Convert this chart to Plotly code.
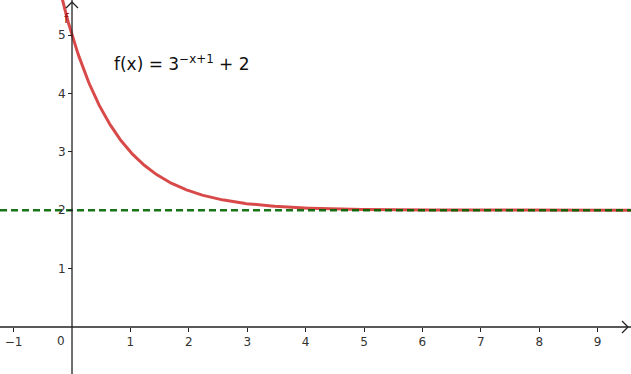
import numpy as np
import plotly.graph_objects as go

# axis window
x_range = [-1.233, 9.572]
y_range = [-0.805, 5.6]
x_ticks = [-1, 1, 2, 3, 4, 5, 6, 7, 8, 9]
x_tick_labels = ["\u22121", "1", "2", "3", "4", "5", "6", "7", "8", "9"]
y_ticks = [1, 2, 3, 4, 5]
y_tick_labels = ["1", "2", "3", "4", "5"]
asymptote_y = 2

xs = np.linspace(x_range[0], x_range[1], 600)
ys = 3.0 ** (-xs + 1) + 2

fig = go.Figure()
fig.add_trace(go.Scatter(x=xs, y=ys, mode="lines",
                         line=dict(color="#d84a4a", width=3), hoverinfo="skip"))
fig.add_trace(go.Scatter(x=x_range, y=[asymptote_y, asymptote_y], mode="lines",
                         line=dict(color="rgba(0,100,0,0.9)", width=2.5, dash="7px,4px"),
                         hoverinfo="skip"))

xpos = (0 - y_range[0]) / (y_range[1] - y_range[0])
ypos = (0 - x_range[0]) / (x_range[1] - x_range[0])
tickfont = dict(family="DejaVu Sans", size=12, color="#333333")

fig.update_layout(
    width=631, height=374, margin=dict(l=0, r=0, t=0, b=0),
    plot_bgcolor="white", paper_bgcolor="white", showlegend=False,
    xaxis=dict(range=x_range, showgrid=False, zeroline=False, showline=False,
               tickvals=x_ticks, ticktext=x_tick_labels, ticks="outside", ticklen=4,
               tickcolor="#222", anchor="free", position=xpos, tickfont=tickfont),
    yaxis=dict(range=y_range, showgrid=False, zeroline=False, showline=False,
               tickvals=y_ticks, ticktext=y_tick_labels, ticks="outside", ticklen=4,
               tickcolor="#222", anchor="free", position=ypos, tickfont=tickfont),
)

axis_line = dict(color="#222", width=1.3)
# axis lines
fig.add_shape(type="line", xref="x", yref="y", x0=x_range[0], x1=x_range[1], y0=0, y1=0,
              line=axis_line)
fig.add_shape(type="line", xref="x", yref="y", x0=0, x1=0, y0=y_range[0], y1=y_range[1],
              line=axis_line)
# arrow heads (pixel-sized shapes anchored at the axis ends)
for dy in (6, -6):
    fig.add_shape(type="line", xref="x", yref="y", xsizemode="pixel", ysizemode="pixel",
                  xanchor=x_range[1], yanchor=0, x0=-3, y0=0, x1=-9, y1=dy, line=axis_line)
for dx in (6, -6):
    fig.add_shape(type="line", xref="x", yref="y", xsizemode="pixel", ysizemode="pixel",
                  xanchor=0, yanchor=y_range[1], x0=0, y0=-2, x1=dx, y1=-8, line=axis_line)

# origin label
fig.add_annotation(x=0, y=0, text="0", showarrow=False, xanchor="right", yanchor="top",
                   xshift=-5, yshift=-5, font=tickfont)
# function name label
fig.add_annotation(x=0, y=5.28, text="f", showarrow=False, xanchor="right",
                   xshift=-1, font=dict(family="DejaVu Sans", size=13, color="#a01010"))
# formula
fig.add_annotation(x=1.88, y=4.52, text="f(x) = 3<sup>\u2212x+1</sup> + 2", showarrow=False,
                   font=dict(family="DejaVu Sans", size=17, color="#111"))

fig.write_html("out.html")
